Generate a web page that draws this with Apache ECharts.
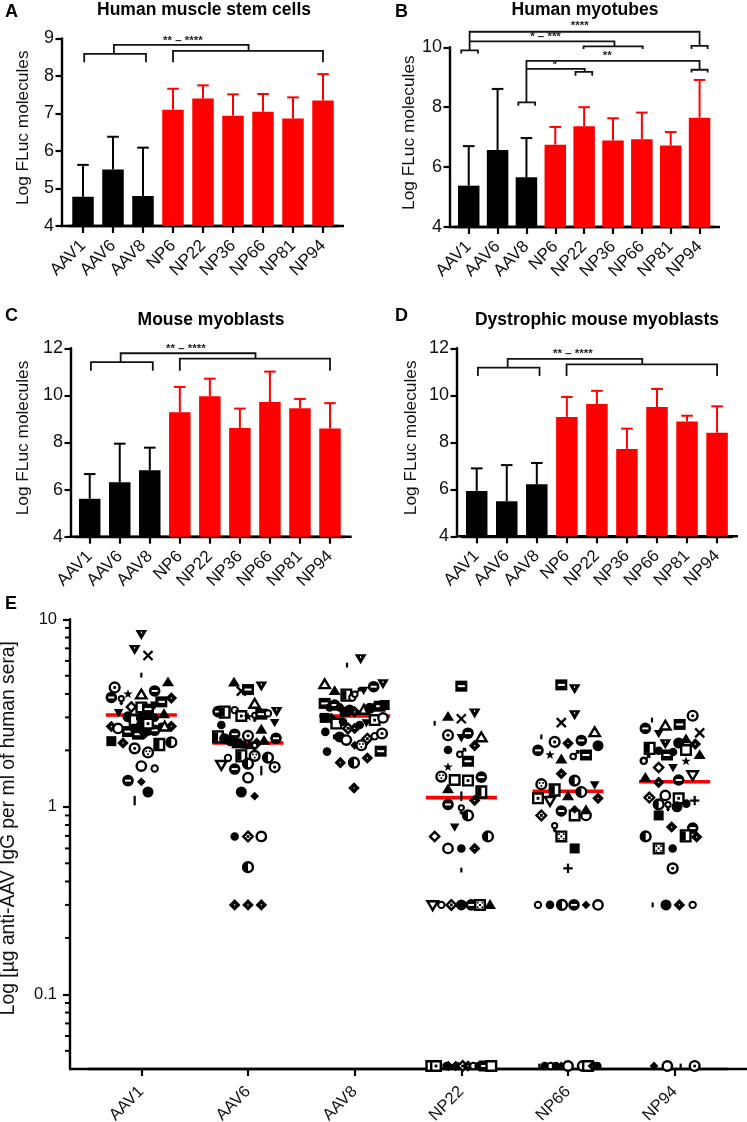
<!DOCTYPE html>
<html><head><meta charset="utf-8">
<style>html,body{margin:0;padding:0;background:#fff}#c{width:747px;height:1122px}</style>
<script src="https://cdn.jsdelivr.net/npm/echarts@6/dist/echarts.min.js"></script>
</head><body><div id="c"></div>
<script>
const barCats = ['AAV1','AAV6','AAV8','NP6','NP22','NP36','NP66','NP81','NP94'];
const aMeans = [4.78,5.51,4.80,7.10,7.40,6.94,7.05,6.87,7.35];
const aTops  = [5.63,6.38,6.09,7.66,7.75,7.51,7.52,7.43,8.05];
const bMeans = [5.38,6.57,5.66,6.75,7.36,6.89,6.93,6.72,7.65];
const bTops  = [6.70,8.61,6.97,7.34,8.00,7.63,7.82,7.17,8.91];
const cMeans = [5.61,6.31,6.82,9.28,9.96,8.62,9.72,9.45,8.59];
const cTops  = [6.66,7.95,7.78,10.36,10.71,9.44,11.01,9.85,9.67];
const dMeans = [5.93,5.49,6.21,9.08,9.63,7.72,9.50,8.89,8.41];
const dTops  = [6.89,7.03,7.12,9.93,10.19,8.58,10.27,9.13,9.53];

const aBrackets = [
  [[0.04,8.37],[0.04,8.59],[2.1,8.59],[2.1,8.37]],
  [[3,8.37],[3,8.67],[8,8.67],[8,8.37]],
  [[1.03,8.59],[1.03,8.83],[5.52,8.83],[5.52,8.67]]
];
const aNotes = [[3.33,8.95,'** – ****']];
const bBrackets = [
  [[-0.26,9.79],[-0.26,9.90],[0.32,9.90],[0.32,9.79]],
  [[7.72,9.94],[7.72,10.05],[8.28,10.05],[8.28,9.94]],
  [[0.03,9.90],[0.03,10.52],[8,10.52],[8,10.05]],
  [[0.03,10.2],[5.05,10.2],[5.05,10.03]],
  [[3.98,9.94],[3.98,10.03],[6.03,10.03],[6.03,9.94]],
  [[1.72,8.05],[1.72,8.16],[2.3,8.16],[2.3,8.05]],
  [[2,8.16],[2,9.55],[8,9.55],[8,9.25]],
  [[2,9.28],[4.02,9.28],[4.02,9.18]],
  [[3.7,9.05],[3.7,9.18],[4.28,9.18],[4.28,9.05]],
  [[7.72,9.16],[7.72,9.25],[8.28,9.25],[8.28,9.16]]
];
const bNotes = [[3.85,10.72,'****'],[2.66,10.36,'* – ***'],[4.8,9.7,'**'],[2.98,9.43,'*']];
const cBrackets = [
  [[0.04,11.05],[0.04,11.41],[2.1,11.41],[2.1,11.05]],
  [[3,11.05],[3,11.56],[8,11.56],[8,11.05]],
  [[1.03,11.41],[1.03,11.79],[5.52,11.79],[5.52,11.56]]
];
const cNotes = [[3.2,11.98,'** – ****']];
const dBrackets = [
  [[0.04,10.82],[0.04,11.18],[2.09,11.18],[2.09,10.82]],
  [[2.99,10.82],[2.99,11.32],[8,11.32],[8,10.82]],
  [[1.03,11.18],[1.03,11.55],[5.51,11.55],[5.51,11.32]]
];
const dNotes = [[3.2,11.76,'** – ****']];

const sweepCats = ['AAV1','AAV6','AAV8','NP22','NP66','NP94'];
const medians = [3.09,2.19,3.05,1.12,1.21,1.36];
const minorTicks = [0.05,0.06,0.07,0.08,0.09,0.2,0.3,0.4,0.5,0.6,0.7,0.8,0.9,2,3,4,5,6,7,8,9];
const aav1Points = [[0,8.34,'td'],[-1,6.93,'td'],[1,6.41,'x'],[0,5.04,'t'],[4,4.62,'tu'],[-4,4.33,'cd'],[0,3.96,'to'],[2,4.15,'cb'],[-2,3.99,'st'],[-4.5,3.83,'cb'],[-3,3.71,'fe'],[4.5,3.80,'Di'],[3,3.63,'sb'],[2,3.49,'dn'],[-1.5,3.41,'do'],[0,3.39,'so'],[1,3.32,'sb'],[-3.4,3.18,'dn'],[3.4,3.12,'tu'],[-2,3.02,'CI'],[-1,2.90,'so'],[0,2.98,'CI'],[1,2.96,'sq'],[2,2.99,'ci'],[-4.5,2.68,'Di'],[-3.5,2.62,'oc'],[-2,2.52,'sb'],[-1,2.56,'ci'],[-0.5,2.44,'sb'],[0.5,2.46,'Di'],[1,2.56,'CI'],[2,2.56,'cb'],[3,2.67,'ci'],[3.5,2.67,'to'],[4.5,2.69,'Di'],[0,2.73,'CI'],[1,2.78,'sd'],[-4.5,2.24,'sq'],[-2.75,2.19,'Di'],[-1,2.05,'cd'],[1,1.95,'cx'],[2.7,2.15,'sv'],[4.5,2.21,'ch'],[0,1.65,'oc'],[2,1.60,'os'],[-2,1.38,'cb'],[0,1.36,'di'],[1,1.20,'CI'],[-1,1.08,'T']];
const aav6Points = [[-2.1,4.60,'tu'],[2,4.42,'td'],[-1,4.14,'x'],[0,4.22,'sb'],[1,3.53,'to'],[-4.5,3.22,'cb'],[-3.5,3.20,'sv'],[-2,3.28,'os'],[-1,3.05,'sd'],[0,3.02,'st'],[1,3.02,'fe'],[2,3.12,'sb'],[3,3.15,'os'],[4.3,3.24,'td'],[4,2.82,'dn'],[-4,2.73,'ci'],[2,2.58,'tu'],[-2,2.44,'cb'],[0,2.39,'cd'],[-4.5,2.36,'sv'],[-3.5,2.31,'CI'],[-2.7,2.22,'ci'],[-1.7,2.18,'sq'],[-0.8,2.15,'ci'],[0.3,2.13,'tu'],[1.3,2.18,'Di'],[2.4,2.25,'tu'],[4.2,2.32,'cb'],[1,2.09,'fe'],[-3,1.82,'os'],[-1,1.87,'sv'],[1,1.87,'cx'],[3,1.83,'ch'],[-4,1.68,'dno'],[0,1.70,'ch'],[-2,1.59,'cb'],[4,1.63,'cd'],[2,1.56,'T'],[0,1.43,'oc'],[-1,1.20,'CI'],[1,1.14,'di'],[-2,0.695,'ci'],[0,0.695,'dx'],[2,0.695,'oc'],[0,0.477,'ch'],[-2,0.30,'Di'],[0,0.30,'Di'],[2,0.30,'Di']];
const aav8Points = [[0.9,6.18,'td'],[-1.15,5.70,'t'],[-4.5,4.49,'to'],[-3,4.15,'tu'],[-1.25,3.94,'sv'],[-0.35,3.83,'os'],[0.25,4.06,'ma'],[1.35,4.19,'dn'],[2.85,4.37,'cb'],[4.25,4.55,'td'],[-4.5,3.56,'sb'],[-3.75,3.39,'ci'],[-3,3.49,'cb'],[-2.25,3.39,'ci'],[-1.5,3.21,'sq'],[-0.75,3.28,'CI'],[0,3.21,'Di'],[1.4,3.28,'to'],[2.25,3.35,'CI'],[3,3.41,'ci'],[3.75,3.44,'sb'],[4.5,3.49,'sq'],[-4.5,2.98,'sq'],[-3.5,2.96,'Di'],[-2.75,2.78,'so'],[-1.75,2.84,'ci'],[-1,2.62,'dx'],[0,2.62,'Di'],[0.75,2.73,'ci'],[1.75,2.81,'dn'],[3,2.90,'sd'],[4.25,2.98,'oc'],[-4.4,2.51,'ci'],[-3.1,2.36,'t'],[-2.25,2.36,'CI'],[-1.25,2.27,'oc'],[0,2.13,'di'],[1,2.13,'cx'],[1.9,2.31,'dx'],[3,2.38,'os'],[4.1,2.46,'cd'],[-4.15,1.97,'ci'],[-2.15,1.72,'Di'],[-0.1,1.72,'ch'],[1.9,1.82,'Di'],[3.9,1.98,'sb'],[-0.1,1.26,'Di']];
const np22Points = [[0,4.40,'sb'],[2,3.18,'td'],[-2,3.02,'tu'],[0,2.95,'x'],[-4,2.79,'t'],[-2,2.41,'cd'],[1,2.47,'cb'],[0,2.34,'dn'],[3,2.34,'to'],[2,2.12,'Di'],[-2,2.01,'ci'],[0,1.94,'ma'],[1,1.75,'sb'],[-2,1.63,'st'],[-3,1.45,'cx'],[-1,1.39,'so'],[1,1.38,'sd'],[3,1.44,'cb'],[-2,1.24,'tu'],[3,1.20,'sv'],[0,1.14,'T'],[2,1.08,'Di'],[-2,1.03,'cb'],[0,0.97,'fe'],[1,0.90,'ch'],[-1,0.78,'dn'],[-4,0.695,'do'],[4,0.695,'ch'],[-2,0.60,'oc'],[0,0.60,'ci'],[2,0.60,'Di'],[0,0.46,'t'],[-4.3,0.30,'dno'],[-3,0.30,'os'],[-1.5,0.30,'dx'],[0,0.30,'CI'],[1.5,0.30,'cb'],[2.8,0.30,'sx'],[4.3,0.30,'tu'],[-4.5,0.0415,'so'],[-3.8,0.0415,'sd'],[-3,0.0415,'t'],[-2.2,0.0415,'ci'],[-1.4,0.0415,'x'],[-0.5,0.0415,'di'],[0.2,0.0415,'dx'],[1,0.0415,'Di'],[1.8,0.0415,'os'],[2.6,0.0415,'ci'],[3.5,0.0415,'sb'],[4.5,0.0415,'so']];
const np66Points = [[-1,4.47,'sb'],[1,4.28,'td'],[1,3.11,'td'],[-1,2.81,'x'],[-4,2.36,'t'],[-2,2.22,'cd'],[0,2.18,'Di'],[2,2.26,'cb'],[4,2.49,'to'],[4.5,2.12,'CI'],[-4.5,2.00,'cb'],[-2.7,1.89,'st'],[-1,1.79,'tu'],[1,1.89,'ma'],[2.7,1.89,'sb'],[-1,1.50,'Di'],[1,1.38,'ch'],[-4,1.32,'cx'],[4,1.31,'dn'],[-2,1.23,'sv'],[-4.5,1.11,'sd'],[-2.7,1.08,'dno'],[0,1.14,'tu'],[2,1.20,'ch'],[4.5,1.11,'Di'],[-4,0.90,'dx'],[-1,0.95,'cb'],[1,0.90,'so'],[1,0.97,'di'],[2.7,0.90,'oc'],[2.7,0.96,'tu'],[-2,0.78,'fe'],[-1,0.695,'sx'],[1,0.60,'sq'],[0,0.47,'p'],[-4.5,0.30,'os'],[-2.7,0.30,'ci'],[-0.9,0.30,'ch'],[0.9,0.30,'cb'],[2.7,0.30,'di'],[4.5,0.30,'oc'],[-4.3,0.0415,'t'],[-3.5,0.0415,'ci'],[-2.6,0.0415,'os'],[-1.8,0.0415,'ci'],[-1,0.0415,'di'],[0,0.0415,'oc'],[2.2,0.0415,'oc'],[3,0.0415,'so'],[3.8,0.0415,'Di'],[4.4,0.0415,'ci']];
const np94Points = [[2.7,3.06,'cd'],[-3.4,2.90,'t'],[-4.4,2.62,'cb'],[-1.4,2.70,'to'],[0.75,2.75,'sb'],[3.75,2.48,'x'],[-2.4,2.46,'dn'],[-1.4,2.18,'td'],[-3.75,2.05,'sv'],[-2.4,1.99,'ci'],[-1.15,1.89,'sb'],[0.6,2.19,'CI'],[1.7,2.29,'tu'],[3.1,2.16,'Di'],[1.7,2.01,'so'],[3.75,1.89,'tu'],[-0.25,1.96,'ci'],[-4.65,1.76,'os'],[-4.4,1.79,'ma'],[-2.4,1.62,'do'],[-0.25,1.62,'dn'],[1.7,1.75,'st'],[-4.4,1.43,'tu'],[-2.4,1.35,'Di'],[0.6,1.39,'cb'],[2.7,1.48,'dno'],[-3.8,1.12,'dx'],[-1.4,1.15,'oc'],[-2.4,1.03,'ch'],[-1,1.01,'fe'],[0.6,1.11,'sd'],[0.35,1.00,'CI'],[1.75,1.04,'ci'],[3,1.08,'p'],[-2.4,0.90,'sq'],[-0.45,0.78,'Di'],[2.7,0.77,'cb'],[1.65,0.70,'sv'],[-4.35,0.695,'ch'],[3.3,0.69,'Di'],[-2.4,0.60,'sx'],[-0.3,0.60,'ci'],[-0.3,0.47,'cd'],[-3.3,0.30,'t'],[-1.3,0.30,'CI'],[0.7,0.30,'Di'],[2.7,0.30,'os'],[-3.1,0.0415,'di'],[-1.1,0.0415,'oc'],[0.9,0.0415,'t'],[3,0.0415,'cd']];
const sweepGroups = [aav1Points,aav6Points,aav8Points,np22Points,np66Points,np94Points];

const FONT = '"Liberation Sans", Arial, sans-serif';
const INK = '#000';
const panelLayout = [
  {means:aMeans,tops:aTops,br:aBrackets,notes:aNotes,title:'Human muscle stem cells',tx:204,ty:1.5,letter:'A',lx:5,ly:3,
   left:68,width:270,top:38.5,bottom:226,min:4,max:9,interval:1,axisX:62,endX:344,nameGap:30},
  {means:bMeans,tops:bTops,br:bBrackets,notes:bNotes,title:'Human myotubes',tx:585,ty:1.5,letter:'B',lx:395,ly:3,
   left:454.3,width:259.7,top:47.3,bottom:227,min:4,max:10,interval:2,axisX:450,endX:720,nameGap:29},
  {means:cMeans,tops:cTops,br:cBrackets,notes:cNotes,title:'Mouse myoblasts',tx:211,ty:311,letter:'C',lx:5,ly:307,
   left:74.7,width:270.3,top:348.3,bottom:536.7,min:4,max:12,interval:2,axisX:71,endX:351.7,nameGap:39},
  {means:dMeans,tops:dTops,br:dBrackets,notes:dNotes,title:'Dystrophic mouse myoblasts',tx:597,ty:311,letter:'D',lx:395,ly:307,
   left:461.7,width:270.4,top:348.3,bottom:536.3,min:4,max:12,interval:2,axisX:457,endX:738,nameGap:37}
];

/* glyphs for the per-serum markers */
function poly(pts,fill,stroke,lw){return {type:'polygon',shape:{points:pts},style:{fill:fill,stroke:stroke||null,lineWidth:lw||0,lineJoin:'miter'}};}
function circ(x,y,r,fill,stroke,lw){return {type:'circle',shape:{cx:x,cy:y,r:r},style:{fill:fill,stroke:stroke||null,lineWidth:lw||0}};}
function rect(x,y,w,h,fill,stroke,lw){return {type:'rect',shape:{x:x-w/2,y:y-h/2,width:w,height:h},style:{fill:fill,stroke:stroke||null,lineWidth:lw||0}};}
function seg(x1,y1,x2,y2,lw){return {type:'line',shape:{x1,y1,x2,y2},style:{stroke:INK,lineWidth:lw||2}};}
function glyph(k,x,y){
  const W='#fff',K=INK;
  switch(k){
    case 'ci': return [circ(x,y,4.3,K)];
    case 'CI': return [circ(x,y,5.5,K)];
    case 'oc': return [circ(x,y,4.7,W,K,2.4)];
    case 'os': return [circ(x,y,3.2,W,K,2)];
    case 'sq': return [rect(x,y,10,10,K)];
    case 'so': return [rect(x,y,9.6,9.6,W,K,2.4)];
    case 'sd': return [rect(x,y,9.6,9.6,W,K,2.4),rect(x,y,2.8,2.8,K)];
    case 'sx': return [rect(x,y,9.6,9.6,W,K,2.4),rect(x,y,2,2,K),rect(x-2.3,y-2.3,1.7,1.7,K),rect(x+2.3,y-2.3,1.7,1.7,K),rect(x-2.3,y+2.3,1.7,1.7,K),rect(x+2.3,y+2.3,1.7,1.7,K)];
    case 'sb': return [rect(x,y,12,11,K),rect(x,y,7,2,W)];
    case 'sv': return [rect(x,y,9.6,11,W,K,2.4),rect(x-2,y,4.2,9,K)];
    case 'tu': return [poly([[x,y-5.8],[x+6,y+4],[x-6,y+4]],K)];
    case 'to': return [poly([[x,y-5.2],[x+5.2,y+3.6],[x-5.2,y+3.6]],W,K,2.4)];
    case 'td': return [poly([[x,y+5.8],[x+5.9,y-4.2],[x-5.9,y-4.2]],K),rect(x,y-1.5,1,2,W)];
    case 'dn': return [poly([[x,y+4.8],[x+4.8,y-3.5],[x-4.8,y-3.5]],K)];
    case 'dno': return [poly([[x,y+5.2],[x+5.2,y-3.6],[x-5.2,y-3.6]],W,K,2.4)];
    case 'di': return [poly([[x,y-4.4],[x+4.4,y],[x,y+4.4],[x-4.4,y]],K)];
    case 'Di': return [poly([[x,y-5.8],[x+5.8,y],[x,y+5.8],[x-5.8,y]],K),rect(x,y,1.2,1.2,W)];
    case 'do': return [poly([[x,y-4.6],[x+4.6,y],[x,y+4.6],[x-4.6,y]],W,K,2.4)];
    case 'dx': return [poly([[x,y-4.8],[x+4.8,y],[x,y+4.8],[x-4.8,y]],W,K,2.4),rect(x,y,2.8,2.8,K)];
    case 'x': return [seg(x-4.5,y-4.5,x+4.5,y+4.5,2.3),seg(x-4.5,y+4.5,x+4.5,y-4.5,2.3)];
    case 'p': return [seg(x-4.7,y,x+4.7,y,2.2),seg(x,y-4.7,x,y+4.7,2.2)];
    case 'st': {
      const p=[];for(let i=0;i<10;i++){const r=i%2?2:4.9,a=-Math.PI/2+i*Math.PI/5;p.push([x+r*Math.cos(a),y+r*Math.sin(a)]);}
      return [poly(p,K)];
    }
    case 'fe': return [circ(x,y-1.5,2.6,W,K,2),seg(x,y+1,x,y+5.2,2),seg(x-1.8,y+3.2,x+1.8,y+3.2,1.5)];
    case 'ma': return [circ(x-1.5,y+1.5,2.8,W,K,2),seg(x,y,x+4,y-4,2),seg(x+1.2,y-4.2,x+4.6,y-4.2,1.7),seg(x+4.2,y-4.4,x+4.2,y-1.2,1.7)];
    case 't': return [rect(x,y,2.2,4.8,K)];
    case 'T': return [rect(x,y,2.2,9.5,K)];
    case 'cb': return [circ(x,y,5.8,K),rect(x,y,6,1.9,W)];
    case 'ch': return [circ(x,y,4.9,W,K,2.4),{type:'sector',shape:{cx:x,cy:y,r:5.5,r0:0,startAngle:Math.PI/2,endAngle:Math.PI*1.5},style:{fill:K}}];
    case 'cd': return [circ(x,y,4.9,W,K,2.4),circ(x,y,1.6,K)];
    case 'cx': return [circ(x,y,4.9,W,K,2.4),circ(x-1.7,y-1.3,1,K),circ(x+1.7,y-1.3,1,K),circ(x,y+1.7,1,K)];
  }
  return [];
}

const grids=[],xAxes=[],yAxes=[],series=[],titles=[],graphics=[];

panelLayout.forEach((p,n)=>{
  const xBand=n*2, xVal=n*2+1;
  grids.push({left:p.left,top:p.top,width:p.width,height:p.bottom-p.top,outerBoundsMode:'none'});
  xAxes.push({type:'category',gridIndex:n,data:barCats,boundaryGap:true,
    axisLine:{show:true,lineStyle:{color:INK,width:2.4}},
    axisTick:{show:true,alignWithLabel:true,length:7,lineStyle:{color:INK,width:2.2}},
    axisLabel:{color:'#111',fontFamily:FONT,fontSize:17,rotate:45,margin:17,interval:0},
    splitLine:{show:false}});
  xAxes.push({type:'value',gridIndex:n,show:false,min:-0.5,max:8.5,splitLine:{show:false}});
  yAxes.push({type:'value',gridIndex:n,min:p.min,max:p.max,interval:p.interval,offset:p.left-p.axisX,
    name:'Log FLuc molecules',nameLocation:'middle',nameGap:p.nameGap,nameRotate:90,
    nameTextStyle:{color:'#111',fontFamily:FONT,fontSize:17.3,padding:[0,0,0,9]},
    axisLine:{show:true,onZero:false,lineStyle:{color:INK,width:2.4}},
    axisTick:{show:true,length:6.5,lineStyle:{color:INK,width:2.2}},
    axisLabel:{color:'#111',fontFamily:FONT,fontSize:18,margin:8},
    splitLine:{show:false}});
  series.push({type:'bar',xAxisIndex:xBand,yAxisIndex:n,data:p.means,barWidth:21.5,silent:true,
    itemStyle:{color:(d)=>d.name.indexOf('AAV')===0?'#000':'#ff0000'}});
  series.push({type:'custom',xAxisIndex:xVal,yAxisIndex:n,silent:true,z:3,
    data:p.means.map((m,i)=>[i,m,p.tops[i]]),encode:{x:0,y:1},
    renderItem:(params,api)=>{
      const i=api.value(0),c=barCats[i].indexOf('AAV')===0?'#000':'#ff0000';
      const a=api.coord([i,api.value(1)]),b=api.coord([i,api.value(2)]);
      const st={stroke:c,lineWidth:2};
      return {type:'group',children:[
        {type:'line',shape:{x1:a[0],y1:a[1],x2:b[0],y2:b[1]},style:st},
        {type:'line',shape:{x1:b[0]-5.8,y1:b[1],x2:b[0]+5.8,y2:b[1]},style:st}]};
    }});
  series.push({type:'custom',xAxisIndex:xVal,yAxisIndex:n,silent:true,z:4,
    data:p.br.map(l=>l[0]),encode:{x:0,y:1},
    renderItem:(params,api)=>({type:'polyline',
      shape:{points:p.br[params.dataIndex].map(q=>api.coord(q))},
      style:{stroke:'#111',lineWidth:1.8,fill:null}})});
  series.push({type:'custom',xAxisIndex:xVal,yAxisIndex:n,silent:true,z:4,
    data:p.notes.map(t=>[t[0],t[1]]),encode:{x:0,y:1},
    renderItem:(params,api)=>{
      const q=api.coord([api.value(0),api.value(1)]);
      return {type:'text',style:{x:q[0],y:q[1],text:p.notes[params.dataIndex][2],align:'center',verticalAlign:'middle',
        fill:'#222',font:'bold 11.5px '+FONT}};
    }});
  titles.push({text:p.title,left:p.tx,top:p.ty,padding:0,textAlign:'center',textStyle:{color:'#000',fontFamily:FONT,fontWeight:'bold',fontSize:17.5}});
  titles.push({text:p.letter,left:p.lx,top:p.ly,padding:0,textStyle:{color:'#000',fontFamily:FONT,fontWeight:'bold',fontSize:18}});
  graphics.push({type:'line',silent:true,shape:{x1:p.axisX-1,y1:p.bottom,x2:p.endX,y2:p.bottom},style:{stroke:INK,lineWidth:2.4}});
});

/* panel E */
const E=4, eLeft=88, eWidth=640, eTop=619.3, eBottom=1069, eAxisX=70;
grids.push({left:eLeft,top:eTop,width:eWidth,height:eBottom-eTop,outerBoundsMode:'none'});
xAxes.push({type:'category',gridIndex:E,data:sweepCats,boundaryGap:true,
  axisLine:{show:true,lineStyle:{color:INK,width:2.4}},
  axisTick:{show:true,alignWithLabel:true,length:7,lineStyle:{color:INK,width:2.2}},
  axisLabel:{color:'#111',fontFamily:FONT,fontSize:16.5,rotate:45,margin:20,interval:0},
  splitLine:{show:false}});
xAxes.push({type:'value',gridIndex:E,show:false,min:-0.5,max:5.5,splitLine:{show:false}});
yAxes.push({type:'log',gridIndex:E,logBase:10,min:0.04,max:10,offset:eLeft-eAxisX,
  name:'Log [µg anti-AAV IgG per ml of human sera]',nameLocation:'middle',nameGap:52,nameRotate:90,
  nameTextStyle:{color:'#111',fontFamily:FONT,fontSize:19.3,padding:[0,0,0,32]},
  axisLine:{show:true,onZero:false,lineStyle:{color:INK,width:2.4}},
  axisTick:{show:true,length:7,lineStyle:{color:INK,width:2.2}},
  axisLabel:{color:'#111',fontFamily:FONT,fontSize:16.5,margin:13,showMinLabel:false,
    formatter:v=>String(+(+v).toPrecision(3))},
  splitLine:{show:false}});
series.push({type:'custom',xAxisIndex:E*2+1,yAxisIndex:E,silent:true,z:2,
  data:minorTicks.map(v=>[-0.5,v]),encode:{x:0,y:1},
  renderItem:(params,api)=>{
    const q=api.coord([api.value(0),api.value(1)]);
    return {type:'line',shape:{x1:eAxisX-5,y1:q[1],x2:eAxisX,y2:q[1]},style:{stroke:INK,lineWidth:2}};
  }});
series.push({type:'custom',xAxisIndex:E*2+1,yAxisIndex:E,silent:true,z:2,
  data:medians.map((m,i)=>[i,m]),encode:{x:0,y:1},
  renderItem:(params,api)=>{
    const i=api.value(0),v=api.value(1);
    const a=api.coord([i-0.333,v]),b=api.coord([i+0.333,v]);
    return {type:'line',shape:{x1:a[0],y1:a[1],x2:b[0],y2:b[1]},style:{stroke:'#ff0000',lineWidth:3.6}};
  }});
const SLOT=1/16;
sweepGroups.forEach((pts,g)=>{
  series.push({type:'custom',xAxisIndex:E*2+1,yAxisIndex:E,silent:true,z:3,
    data:pts.map(p=>[g+p[0]*SLOT,p[1]]),encode:{x:0,y:1},
    renderItem:(params,api)=>{
      const q=api.coord([api.value(0),api.value(1)]);
      return {type:'group',children:glyph(pts[params.dataIndex][2],q[0],q[1])};
    }});
});
titles.push({text:'E',left:5,top:595,padding:0,textStyle:{color:'#000',fontFamily:FONT,fontWeight:'bold',fontSize:18}});
graphics.push({type:'line',silent:true,shape:{x1:eAxisX-1,y1:eBottom,x2:747,y2:eBottom},style:{stroke:INK,lineWidth:2.4}});

const chart=echarts.init(document.getElementById('c'),null,{renderer:'canvas',width:747,height:1122});
chart.setOption({animation:false,backgroundColor:'#fff',title:titles,grid:grids,xAxis:xAxes,yAxis:yAxes,series:series,graphic:graphics});
</script></body></html>
